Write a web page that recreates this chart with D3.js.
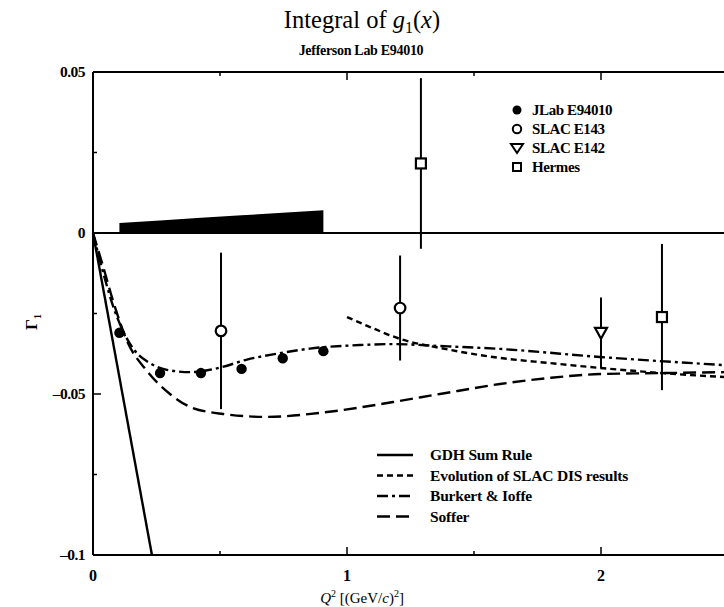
<!DOCTYPE html>
<html><head><meta charset="utf-8">
<script src="https://cdn.jsdelivr.net/npm/d3@7"></script>
<style>body{margin:0;background:#fff}svg{display:block}text{font-family:"Liberation Serif","DejaVu Serif",serif;fill:#000}</style>
</head><body><svg id="c" width="724" height="607"></svg>
<script>
// ---- data ----
const jlabQ2 = [0.104, 0.264, 0.425, 0.585, 0.747, 0.907];
const jlabG1 = [-0.0310, -0.0435, -0.0435, -0.0422, -0.0389, -0.0367];
const jlabSys = [0.0031, 0.0039, 0.0047, 0.0055, 0.0063, 0.0071];

const e143Q2 = [0.504, 1.209];
const e143G1 = [-0.0304, -0.0233];
const e143Err = [0.0243, 0.0163];

const e142Q2 = [2.0];
const e142G1 = [-0.031];
const e142Err = [0.011];

const hermesQ2 = [1.291, 2.24];
const hermesG1 = [0.0216, -0.0261];
const hermesErr = [0.0265, 0.0227];

const gdhQ2 = [0, 0.232];
const gdhG1 = [0, -0.1];

const evoQ2 = [1.0, 1.091, 1.209, 1.366, 1.602, 1.799, 1.996, 2.24, 2.5];
const evoG1 = [-0.0261, -0.0292, -0.0329, -0.0357, -0.0388, -0.0404, -0.0419, -0.0435, -0.0448];

const bkQ2 = [0, 0.047, 0.079, 0.118, 0.165, 0.224, 0.291, 0.382, 0.5, 0.606, 0.724, 0.854, 1.051, 1.181, 1.366, 1.602, 1.996, 2.5];
const bkG1 = [0, -0.0143, -0.0227, -0.0304, -0.0366, -0.0404, -0.0425, -0.0432, -0.0418, -0.0393, -0.0375, -0.0359, -0.0348, -0.0345, -0.0351, -0.0360, -0.0385, -0.0411];

const sofQ2 = [0, 0.039, 0.079, 0.134, 0.213, 0.303, 0.382, 0.512, 0.685, 0.921, 1.181, 1.366, 1.602, 1.799, 1.996, 2.24, 2.5];
const sofG1 = [0, -0.0102, -0.0211, -0.0335, -0.0429, -0.0500, -0.0540, -0.0562, -0.0571, -0.0556, -0.0525, -0.0500, -0.0469, -0.0450, -0.0438, -0.0435, -0.0432];

const xTicks = [0, 1, 2];
const xMinor = [0.5, 1.5];
const yTicks = [0.05, 0, -0.05, -0.1];
const yTickLabels = ["0.05", "0", "\u20130.05", "\u20130.1"];
const yMinor = [0.025, -0.025, -0.075];

const topLegend = ["JLab E94010", "SLAC E143", "SLAC E142", "Hermes"];
const curveLegend = ["GDH Sum Rule", "Evolution of SLAC DIS results", "Burkert & Ioffe", "Soffer"];

// ---- drawing ----
const svg = d3.select("#c");
const x = d3.scaleLinear().domain([0, 2.5]).range([93, 728]);
const y = d3.scaleLinear().domain([-0.1, 0.05]).range([555, 72]);

const clipId = "plotclip";
svg.append("clipPath").attr("id", clipId).append("rect")
  .attr("x", x(0)).attr("y", y(0.05)).attr("width", x(2.5) - x(0)).attr("height", y(-0.1) - y(0.05));

// title
const t = svg.append("text").attr("x", 362).attr("y", 28).attr("text-anchor", "middle").attr("font-size", 24.5);
t.append("tspan").text("Integral of ");
t.append("tspan").attr("font-style", "italic").text("g");
t.append("tspan").attr("font-size", 16).attr("dy", 5).text("1");
t.append("tspan").attr("dy", -5).text("(");
t.append("tspan").attr("font-style", "italic").text("x");
t.append("tspan").text(")");
svg.append("text").attr("x", 361).attr("y", 55).attr("text-anchor", "middle").attr("font-size", 14).attr("font-weight", "bold").attr("letter-spacing", -0.3).text("Jefferson Lab E94010");

// frame
const frame = svg.append("g").attr("stroke", "#000").attr("stroke-width", 2).attr("fill", "none");
frame.append("line").attr("x1", x(0)).attr("x2", x(2.5)).attr("y1", y(0.05)).attr("y2", y(0.05));
frame.append("line").attr("x1", x(0)).attr("x2", x(2.5)).attr("y1", y(-0.1)).attr("y2", y(-0.1));
frame.append("line").attr("x1", x(0)).attr("x2", x(0)).attr("y1", y(0.05)).attr("y2", y(-0.1));
frame.append("line").attr("x1", x(0)).attr("x2", x(2.5)).attr("y1", y(0)).attr("y2", y(0));

// ticks (inward)
const tk = svg.append("g").attr("stroke", "#000").attr("stroke-width", 1.5);
xTicks.concat(xMinor).forEach(v => {
  const L = xTicks.includes(v) ? 8 : 4;
  tk.append("line").attr("x1", x(v)).attr("x2", x(v)).attr("y1", y(-0.1)).attr("y2", y(-0.1) - L);
  tk.append("line").attr("x1", x(v)).attr("x2", x(v)).attr("y1", y(0.05)).attr("y2", y(0.05) + L);
});
yTicks.concat(yMinor).forEach(v => {
  const L = yTicks.includes(v) ? 8 : 4;
  tk.append("line").attr("x1", x(0)).attr("x2", x(0) + L).attr("y1", y(v)).attr("y2", y(v));
});

// tick labels
xTicks.forEach(v => svg.append("text").attr("x", x(v)).attr("y", 581).attr("text-anchor", "middle").attr("font-size", 16).attr("font-weight", "bold").text(v));
yTicks.forEach((v, i) => svg.append("text").attr("x", 85).attr("y", y(v) + 5).attr("text-anchor", "end").attr("font-size", 15.5).attr("font-weight", "bold").attr("letter-spacing", -0.5).text(yTickLabels[i]));

// axis titles
const xl = svg.append("text").attr("x", 362).attr("y", 603).attr("text-anchor", "middle").attr("font-size", 15);
xl.append("tspan").attr("font-style", "italic").text("Q");
xl.append("tspan").attr("font-size", 10).attr("dy", -6).text("2");
xl.append("tspan").attr("dy", 6).text(" [(GeV/");
xl.append("tspan").attr("font-style", "italic").text("c");
xl.append("tspan").text(")");
xl.append("tspan").attr("font-size", 10).attr("dy", -6).text("2");
xl.append("tspan").attr("dy", 6).text("]");
const yl = svg.append("text").attr("transform", "translate(37,322) rotate(-90)").attr("text-anchor", "middle").attr("font-size", 17).attr("font-weight", "bold");
yl.append("tspan").text("\u0393");
yl.append("tspan").attr("font-size", 10).attr("dy", 4).text("1");

// systematic band
const band = jlabQ2.map((q, i) => ({ q, s: jlabSys[i] }));
svg.append("path").datum(band).attr("fill", "#000")
  .attr("d", d3.area().x(d => x(d.q)).y0(y(0)).y1(d => y(d.s)));

// curves
const g = svg.append("g").attr("clip-path", `url(#${clipId})`).attr("fill", "none").attr("stroke", "#000").attr("stroke-width", 2.4);
const line = d3.line().x(d => x(d[0])).y(d => y(d[1])).curve(d3.curveMonotoneX);
const zip = (a, b) => a.map((v, i) => [v, b[i]]);
const styles = {
  gdh: null,
  evo: "6,4",
  bk: "11,4,3,4",
  sof: "13,6"
};
g.append("path").attr("d", d3.line().x(d => x(d[0])).y(d => y(d[1]))(zip(gdhQ2, gdhG1)));
g.append("path").attr("stroke-dasharray", styles.evo).attr("d", line(zip(evoQ2, evoG1)));
g.append("path").attr("stroke-dasharray", styles.bk).attr("d", line(zip(bkQ2, bkG1)));
g.append("path").attr("stroke-dasharray", styles.sof).attr("d", line(zip(sofQ2, sofG1)));

// error bars
const eb = svg.append("g").attr("stroke", "#000").attr("stroke-width", 2);
function bars(Q, G, E) {
  Q.forEach((q, i) => eb.append("line").attr("x1", x(q)).attr("x2", x(q)).attr("y1", y(G[i] + E[i])).attr("y2", y(G[i] - E[i])));
}
bars(e143Q2, e143G1, e143Err);
bars(e142Q2, e142G1, e142Err);
bars(hermesQ2, hermesG1, hermesErr);

// markers
const mk = svg.append("g");
function circleFilled(px, py) { mk.append("circle").attr("cx", px).attr("cy", py).attr("r", 5.2).attr("fill", "#000"); }
function circleOpen(px, py) { mk.append("circle").attr("cx", px).attr("cy", py).attr("r", 5.3).attr("fill", "#fff").attr("stroke", "#000").attr("stroke-width", 2.2); }
function triDown(px, py) { mk.append("path").attr("d", `M${px-6},${py-5}L${px+6},${py-5}L${px},${py+6}Z`).attr("fill", "#fff").attr("stroke", "#000").attr("stroke-width", 2.2); }
function square(px, py) { mk.append("rect").attr("x", px-5).attr("y", py-5).attr("width", 10).attr("height", 10).attr("fill", "#fff").attr("stroke", "#000").attr("stroke-width", 2.2); }
jlabQ2.forEach((q, i) => circleFilled(x(q), y(jlabG1[i])));
e143Q2.forEach((q, i) => circleOpen(x(q), y(e143G1[i])));
e142Q2.forEach((q, i) => triDown(x(q), y(e142G1[i])));
hermesQ2.forEach((q, i) => square(x(q), y(hermesG1[i])));

// top legend
topLegend.forEach((lab, i) => {
  const yy = 110 + i * 19;
  if (i === 0) mk.append("circle").attr("cx", 517).attr("cy", yy).attr("r", 4.5).attr("fill", "#000");
  else if (i === 1) mk.append("circle").attr("cx", 517).attr("cy", yy).attr("r", 4.2).attr("fill", "#fff").attr("stroke", "#000").attr("stroke-width", 2);
  else if (i === 2) mk.append("path").attr("d", `M${511},${yy-4}L${523},${yy-4}L${517},${yy+5}Z`).attr("fill", "#fff").attr("stroke", "#000").attr("stroke-width", 2);
  else mk.append("rect").attr("x", 513).attr("y", yy-4).attr("width", 8).attr("height", 8).attr("fill", "#fff").attr("stroke", "#000").attr("stroke-width", 2);
  svg.append("text").attr("x", 532).attr("y", yy + 5).attr("font-size", 15).attr("font-weight", "bold").attr("letter-spacing", -0.4).text(lab);
});

// curve legend
const legDash = [styles.gdh, styles.evo, styles.bk, styles.sof];
curveLegend.forEach((lab, i) => {
  const yy = 455 + i * 20.5;
  const l = svg.append("line").attr("x1", 377).attr("x2", 413).attr("y1", yy).attr("y2", yy).attr("stroke", "#000").attr("stroke-width", 2.4);
  if (legDash[i]) l.attr("stroke-dasharray", legDash[i]);
  svg.append("text").attr("x", 430).attr("y", yy + 5).attr("font-size", 15.5).attr("font-weight", "bold").attr("letter-spacing", -0.2).text(lab);
});
</script></body></html>
